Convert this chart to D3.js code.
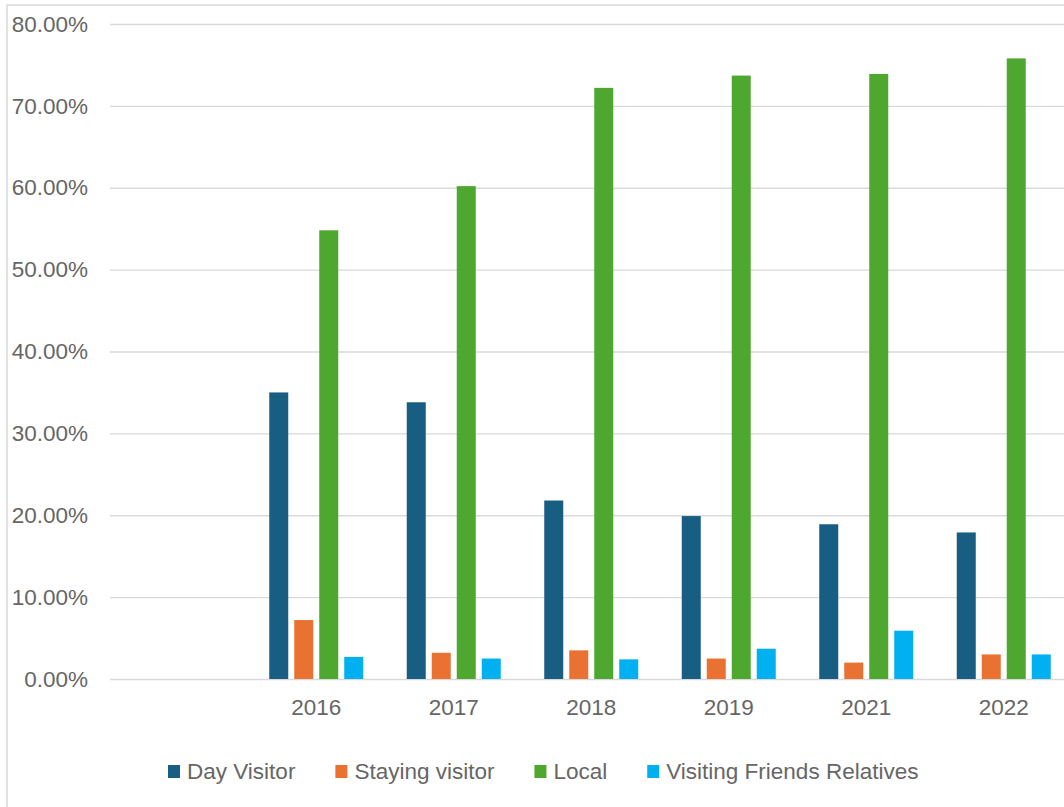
<!DOCTYPE html>
<html>
<head>
<meta charset="utf-8">
<script src="https://cdn.jsdelivr.net/npm/d3@7"></script>
<style>
  html, body { margin: 0; padding: 0; background: #fff; }
  svg { display: block; font-family: "Liberation Sans", Arial, sans-serif; }
  .tick text { fill: #666; font-size: 22.5px; }
  .legend text { fill: #666; font-size: 22.5px; }
</style>
</head>
<body>
<svg width="1064" height="807"></svg>
<script>
// first category is blank in the source chart
const categories = ["", "2016", "2017", "2018", "2019", "2021", "2022"];
const series = ["Day Visitor", "Staying visitor", "Local", "Visiting Friends Relatives"];
const dayVisitor = [null, 0.350, 0.338, 0.218, 0.199, 0.189, 0.179];
const stayingVisitor = [null, 0.072, 0.032, 0.035, 0.025, 0.020, 0.030];
const local = [null, 0.548, 0.602, 0.722, 0.737, 0.739, 0.758];
const vfr = [null, 0.027, 0.025, 0.024, 0.037, 0.059, 0.030];
const yTicks = [0, 0.1, 0.2, 0.3, 0.4, 0.5, 0.6, 0.7, 0.8];
const colors = ["#175e82", "#e97132", "#4ea72e", "#00b0f0"];

const values = [dayVisitor, stayingVisitor, local, vfr];
const rows = categories.map((c, i) => ({
  cat: c,
  vals: series.map((s, j) => ({ key: s, value: values[j][i] })),
}));

const svg = d3.select("svg");
const margin = { left: 110, top: 24 };
const plot = { width: 962.5, height: 655 };

// chart border (bottom and right run off the picture)
svg.append("rect")
  .attr("x", 7).attr("y", 5)
  .attr("width", 1100).attr("height", 850)
  .attr("fill", "none")
  .attr("stroke", "#d9d9d9")
  .attr("stroke-width", 1.5);

const x0 = d3.scaleBand().domain(categories).range([0, plot.width]);
const groupWidth = 94;
const x1 = d3.scaleBand().domain(series).range([0, groupWidth]).paddingInner(0.24);
const y = d3.scaleLinear().domain([0, 0.8]).range([plot.height, 0]);

const g = svg.append("g").attr("transform", `translate(${margin.left},${margin.top})`);

// gridlines + y labels
const yAxis = d3.axisLeft(y)
  .tickValues(yTicks)
  .tickFormat(d3.format(".2%"))
  .tickSize(-plot.width)
  .tickPadding(22);
g.append("g")
  .call(yAxis)
  .call((s) => s.select(".domain").remove())
  .call((s) => s.selectAll(".tick line").attr("stroke", "#d9d9d9").attr("stroke-width", 1.3));

// x labels
const xAxis = d3.axisBottom(x0).tickSize(0).tickPadding(20);
g.append("g")
  .attr("transform", `translate(0,${plot.height})`)
  .call(xAxis)
  .call((s) => s.select(".domain").remove());

// bars
const groups = g.selectAll(".grp")
  .data(rows)
  .enter()
  .append("g")
  .attr("class", "grp")
  .attr("transform", (d) => `translate(${x0(d.cat) + (x0.bandwidth() - groupWidth) / 2},0)`);

groups.selectAll("rect")
  .data((d) => d.vals.filter((v) => v.value != null))
  .enter()
  .append("rect")
  .attr("x", (d) => x1(d.key))
  .attr("width", x1.bandwidth())
  .attr("y", (d) => y(d.value))
  .attr("height", (d) => plot.height - y(d.value))
  .attr("fill", (d) => colors[series.indexOf(d.key)]);

// legend
const legend = svg.append("g").attr("class", "legend").attr("transform", "translate(168,771)");
let lx = 0;
series.forEach((s, i) => {
  const item = legend.append("g").attr("transform", `translate(${lx},0)`);
  item.append("rect")
    .attr("x", 0).attr("y", -6)
    .attr("width", 12).attr("height", 13)
    .attr("fill", colors[i]);
  const t = item.append("text")
    .attr("x", 19).attr("dy", "0.35em")
    .text(s);
  lx += 19 + t.node().getComputedTextLength() + 40;
});
</script>
</body>
</html>
